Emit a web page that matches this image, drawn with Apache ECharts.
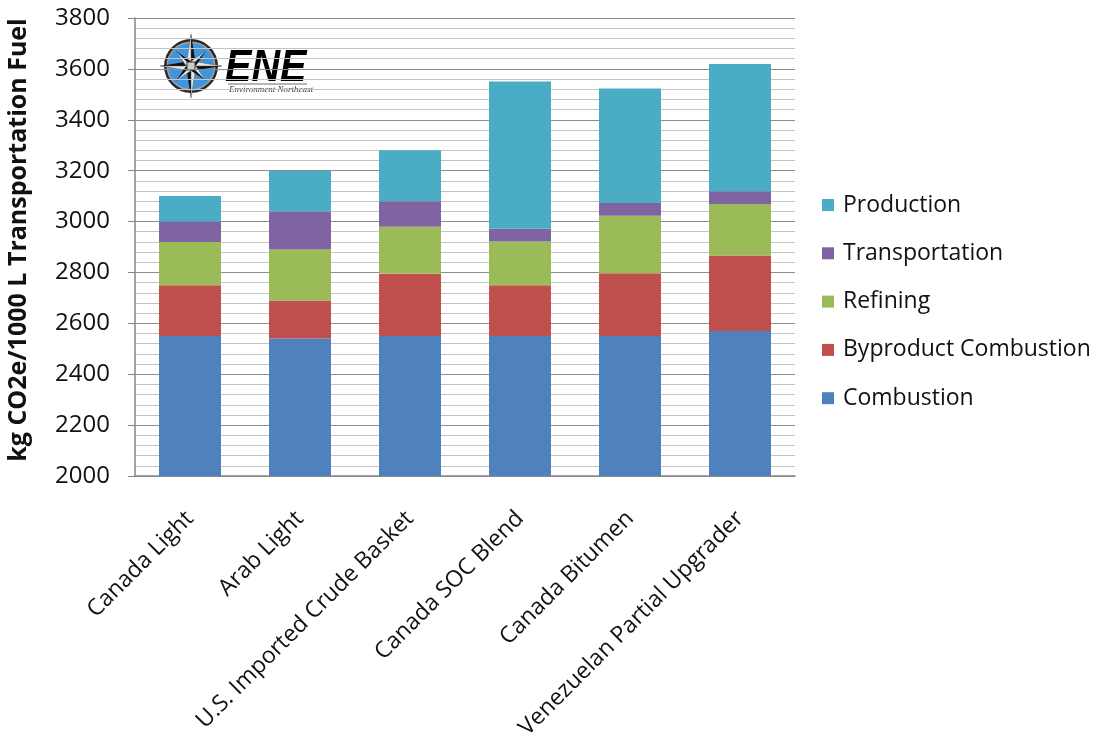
<!DOCTYPE html>
<html>
<head>
<meta charset="utf-8">
<script src="https://cdn.jsdelivr.net/npm/echarts@6/dist/echarts.min.js"></script>
<style>
  html, body { margin: 0; padding: 0; background: #fff; }
  #chart { width: 1094px; height: 736px; }
</style>
</head>
<body>
<div id="chart"></div>
<script>
// crude sources along the x axis
const categories = [
  "Canada Light",
  "Arab Light",
  "U.S. Imported Crude Basket",
  "Canada SOC Blend",
  "Canada Bitumen",
  "Venezuelan Partial Upgrader",
];

// stacked segments, kg CO2e / 1000 L (bottom to top)
const combustion = [2550, 2540, 2550, 2550, 2550, 2570];
const byproductCombustion = [200, 150, 245, 200, 247, 297];
const refining = [170, 200, 185, 172, 226, 202];
const transportation = [80, 150, 100, 50, 50, 50];
const production = [100, 160, 200, 578, 450, 500];

const yTicks = { min: 2000, max: 3800, interval: 200 };

const FONT = "'Open Sans', Lato, sans-serif";

function bar(name, data, color) {
  return {
    name: name,
    type: "bar",
    stack: "total",
    barWidth: 62,
    data: data,
    itemStyle: { color: color },
    emphasis: { disabled: true },
  };
}

// compass rose of the ENE logo, drawn as graphic shapes
function compass(cx, cy) {
  const els = [
    { type: "circle", shape: { cx: cx, cy: cy, r: 27 }, style: { fill: "#2b2b2b" } },
    { type: "circle", shape: { cx: cx, cy: cy, r: 24.5 }, style: { fill: "#a0a0a0" } },
    { type: "circle", shape: { cx: cx, cy: cy, r: 23 }, style: { fill: "#3f95dd" } },
  ];
  const pts = [
    { a: -90, len: 32, w: 5 },
    { a: 0, len: 31, w: 5 },
    { a: 90, len: 32, w: 5 },
    { a: 180, len: 31, w: 5 },
    { a: -45, len: 21, w: 4 },
    { a: 45, len: 21, w: 4 },
    { a: 135, len: 21, w: 4 },
    { a: -135, len: 21, w: 4 },
  ];
  pts.forEach(function (p) {
    const r = (p.a * Math.PI) / 180;
    const tip = [cx + Math.cos(r) * p.len, cy + Math.sin(r) * p.len];
    const s1 = [cx + Math.cos(r + Math.PI / 2) * p.w, cy + Math.sin(r + Math.PI / 2) * p.w];
    const s2 = [cx + Math.cos(r - Math.PI / 2) * p.w, cy + Math.sin(r - Math.PI / 2) * p.w];
    els.push({ type: "polygon", shape: { points: [[cx, cy], s1, tip] }, style: { fill: "#111" } });
    els.push({ type: "polygon", shape: { points: [[cx, cy], s2, tip] }, style: { fill: "#e8e8e8", stroke: "#555", lineWidth: 0.5 } });
  });
  els.push({ type: "rect", shape: { x: cx - 4, y: cy - 4, width: 8, height: 8 }, style: { fill: "#ccc", stroke: "#333", lineWidth: 1 } });
  return els;
}

const chart = echarts.init(document.getElementById("chart"), null, { renderer: "canvas" });

const option = {
  animation: false,
  backgroundColor: "#fff",
  textStyle: { fontFamily: FONT },
  grid: { left: 135, right: 299, top: 18, bottom: 260, containLabel: false, outerBoundsMode: "none" },
  legend: {
    orient: "vertical",
    left: 822,
    top: 193,
    padding: 0,
    itemWidth: 12,
    itemHeight: 12,
    itemGap: 24.3,
    icon: "rect",
    data: ["Production", "Transportation", "Refining", "Byproduct Combustion", "Combustion"],
    textStyle: { fontFamily: FONT, fontSize: 23, color: "#111", lineHeight: 24, padding: [0, 0, 0, 4] },
    selectedMode: false,
  },
  xAxis: {
    type: "category",
    data: categories,
    axisLine: { lineStyle: { color: "#868686", width: 1.5 } },
    axisTick: { show: false },
    axisLabel: {
      rotate: 45,
      interval: 0,
      margin: 39,
      fontFamily: FONT,
      fontSize: 23,
      color: "#111",
    },
  },
  yAxis: {
    type: "value",
    min: yTicks.min,
    max: yTicks.max,
    interval: yTicks.interval,
    name: "kg CO2e/1000 L Transportation Fuel",
    nameLocation: "middle",
    nameGap: 104,
    nameTextStyle: {
      fontFamily: FONT,
      fontSize: 25,
      fontWeight: "bold",
      color: "#111",
      padding: [0, 0, 0, 14],
    },
    axisLine: { show: true, lineStyle: { color: "#868686", width: 1.5 } },
    axisTick: { show: true, length: 7, lineStyle: { color: "#868686" } },
    axisLabel: {
      margin: 25,
      fontFamily: FONT,
      fontSize: 24,
      color: "#111",
      formatter: function (v) { return String(v); },
    },
    splitLine: { show: true, lineStyle: { color: "#8c8c8c", width: 1 } },
    minorTick: { show: false, splitNumber: 5 },
    minorSplitLine: { show: true, lineStyle: { color: "#c4c4c4", width: 1 } },
  },
  series: [
    bar("Combustion", combustion, "#4F81BD"),
    bar("Byproduct Combustion", byproductCombustion, "#C0504D"),
    bar("Refining", refining, "#9BBB59"),
    bar("Transportation", transportation, "#8064A2"),
    bar("Production", production, "#4BACC6"),
  ],
  graphic: [
    {
      type: "group",
      z: 100,
      children: [
        { type: "rect", shape: { x: 160, y: 28, width: 150, height: 72 }, style: { fill: "#fff" } },
      ]
        .concat(compass(191, 66))
        .concat([
          {
            type: "text",
            x: 225,
            y: 47,
            scaleX: 0.9,
            style: {
              text: "ENE",
              font: "italic bold 44px 'Liberation Sans', sans-serif",
              fill: "#000",
            },
          },
          { type: "line", shape: { x1: 228, y1: 84, x2: 307, y2: 84 }, style: { stroke: "#444", lineWidth: 0.8 } },
          {
            type: "text",
            x: 229,
            y: 85,
            style: {
              text: "Environment Northeast",
              font: "italic 9px 'Liberation Serif', serif",
              fill: "#333",
            },
          },
        ]),
    },
  ],
};

chart.setOption(option);
</script>
</body>
</html>
